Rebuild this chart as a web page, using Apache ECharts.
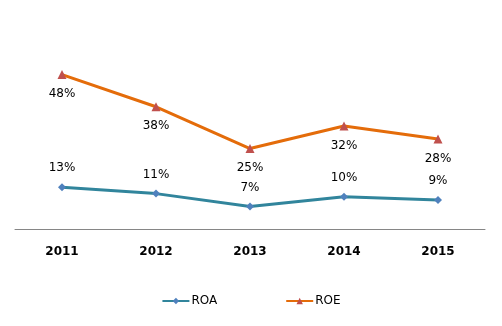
<!DOCTYPE html>
<html><head><meta charset="utf-8">
<script src="https://cdn.jsdelivr.net/npm/echarts@6/dist/echarts.min.js"></script>
<style>html,body{margin:0;padding:0;background:#fff}#c{width:502px;height:326px}</style>
</head><body><div id="c"></div>
<script>
var categories = ['2011','2012','2013','2014','2015'];
var roa = [0.13, 0.11, 0.07, 0.10, 0.09];
var roe = [0.48, 0.38, 0.25, 0.32, 0.28];
var chart = echarts.init(document.getElementById('c'));
var fmt = function(p){ return Math.round(p.value*100) + '%'; };
chart.setOption({
  animation: false,
  textStyle: {fontFamily: 'DejaVu Sans'},
  grid: {left: 15, right: 17, top: 36, height: 193},
  legend: {
    bottom: 14, left: 'center', itemWidth: 27, itemHeight: 8, itemGap: 68,
    textStyle: {fontSize: 12, color: '#000', fontFamily: 'DejaVu Sans', padding: [0,0,0,-3]},
    data: ['ROA', 'ROE']
  },
  xAxis: {
    type: 'category', data: categories, boundaryGap: true,
    axisLine: {lineStyle: {color: '#868686', width: 1}},
    axisTick: {show: false},
    axisLabel: {fontWeight: 'bold', fontSize: 12, color: '#000', margin: 17, fontFamily: 'DejaVu Sans'}
  },
  yAxis: {
    type: 'value', min: 0, max: 0.6, show: false, splitLine: {show: false}
  },
  series: [
    {name: 'ROA', type: 'line', data: roa, symbol: 'diamond', symbolSize: 8,
     lineStyle: {color: '#31859C', width: 3}, itemStyle: {color: '#4F81BD'},
     label: {show: true, position: 'top', distance: 9, formatter: fmt, fontSize: 12, color: '#000'}},
    {name: 'ROE', type: 'line', data: roe, symbol: 'triangle', symbolSize: 9,
     lineStyle: {color: '#E46C0A', width: 3}, itemStyle: {color: '#C0504D'},
     label: {show: true, position: 'bottom', distance: 9, formatter: fmt, fontSize: 12, color: '#000'}}
  ]
});
</script></body></html>
